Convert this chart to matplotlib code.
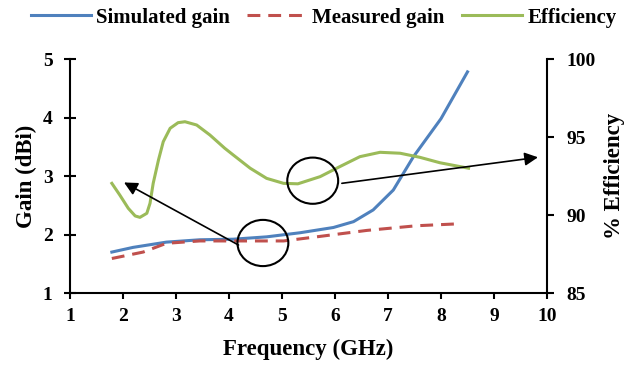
import matplotlib.pyplot as plt
from matplotlib.patches import Ellipse

plt.rcParams['font.family'] = ['Liberation Serif', 'DejaVu Serif']
plt.rcParams['font.weight'] = 'bold'
plt.rcParams['font.size'] = 14

# simulated gain (dBi)
sim_freq = [1.79, 2.19, 2.82, 3.45, 4.08, 4.71, 5.34, 5.97, 6.35, 6.72, 7.10, 7.48, 8.0, 8.50]
sim_gain = [1.70, 1.78, 1.87, 1.91, 1.92, 1.96, 2.03, 2.12, 2.22, 2.42, 2.76, 3.33, 3.98, 4.78]

# measured gain (dBi)
meas_freq = [1.79, 2.38, 2.82, 3.45, 4.40, 5.03, 5.65, 6.60, 7.54, 8.26]
meas_gain = [1.59, 1.70, 1.85, 1.89, 1.89, 1.89, 1.96, 2.07, 2.15, 2.18]

# efficiency (%)
eff_freq = [1.79, 1.94, 2.10, 2.23, 2.32, 2.45, 2.51, 2.57, 2.67, 2.76, 2.89, 3.04, 3.17,
            3.39, 3.64, 3.92, 4.08, 4.40, 4.71, 5.03, 5.30, 5.72, 6.09, 6.47, 6.85,
            7.23, 7.60, 7.98, 8.52]
eff_val = [92.03, 91.28, 90.43, 89.94, 89.85, 90.11, 90.75, 92.03, 93.53, 94.70, 95.56, 95.92, 95.98,
           95.77, 95.13, 94.28, 93.85, 93.0, 92.35, 92.03, 92.0, 92.46, 93.1, 93.74, 94.02,
           93.96, 93.7, 93.35, 93.0]

blue = '#4F81BD'
red = '#C0504D'
green = '#9BBB59'

fig = plt.figure(figsize=(6.27, 3.67), dpi=100)
ax = fig.add_axes([0.1116, 0.2016, 0.7608, 0.6376])
ax2 = ax.twinx()

l1, = ax.plot(sim_freq, sim_gain, color=blue, lw=2.2, label='Simulated gain')
l2, = ax.plot(meas_freq, meas_gain, color=red, lw=2.2, ls=(0, (4.2, 2.6)), label='Measured gain')
l3, = ax2.plot(eff_freq, eff_val, color=green, lw=2.2, label='Efficiency')

ax.set_xlim(1, 10)
ax.set_ylim(1, 5)
ax2.set_ylim(85, 100)
ax.set_xticks(range(1, 11))
ax.set_yticks(range(1, 6))
ax2.set_yticks([85, 90, 95, 100])

ax.set_xlabel('Frequency (GHz)', fontweight='bold', fontsize=16.5, labelpad=10)
ax.set_ylabel('Gain (dBi)', fontweight='bold', fontsize=16.5, labelpad=4)
ax2.set_ylabel('% Efficiency', fontweight='bold', fontsize=16.5, labelpad=6)

for a in (ax, ax2):
    a.spines['top'].set_visible(False)
    for s in a.spines.values():
        s.set_linewidth(1.5)
ax2.spines['left'].set_visible(False)
ax2.spines['bottom'].set_visible(False)
ax.spines['right'].set_visible(False)

ax.tick_params(axis='y', direction='inout', length=9, width=1.5, pad=8)
ax.tick_params(axis='x', direction='out', length=4, width=1.5, pad=7)
ax2.tick_params(axis='y', direction='out', length=5, width=1.5, pad=9)

# circles around the curves and arrows pointing to their axes
for cx, cy in [(4.64, 1.855), (5.58, 2.92)]:
    ax2.add_patch(Ellipse((cx, cy), 0.96, 0.79, transform=ax.transData,
                          fill=False, ec='black', lw=1.5, zorder=5))
ax2.annotate('', xy=(2.02, 2.89), xytext=(4.18, 1.82),
             xycoords=ax.transData, textcoords=ax.transData,
             arrowprops=dict(arrowstyle='-|>', color='black', lw=1.2, mutation_scale=20, shrinkA=0, shrinkB=0))
ax2.annotate('', xy=(9.83, 3.32), xytext=(6.13, 2.875),
             xycoords=ax.transData, textcoords=ax.transData,
             arrowprops=dict(arrowstyle='-|>', color='black', lw=1.2, mutation_scale=20, shrinkA=0, shrinkB=0))

fig.legend(handles=[l1, l2, l3], loc='center', bbox_to_anchor=(0.516, 0.952), ncol=3,
           frameon=False, handlelength=2.9, columnspacing=0.8, handletextpad=0.25,
           borderpad=0, prop={'weight': 'bold', 'size': 15})

fig.savefig('out.png', dpi=100)
